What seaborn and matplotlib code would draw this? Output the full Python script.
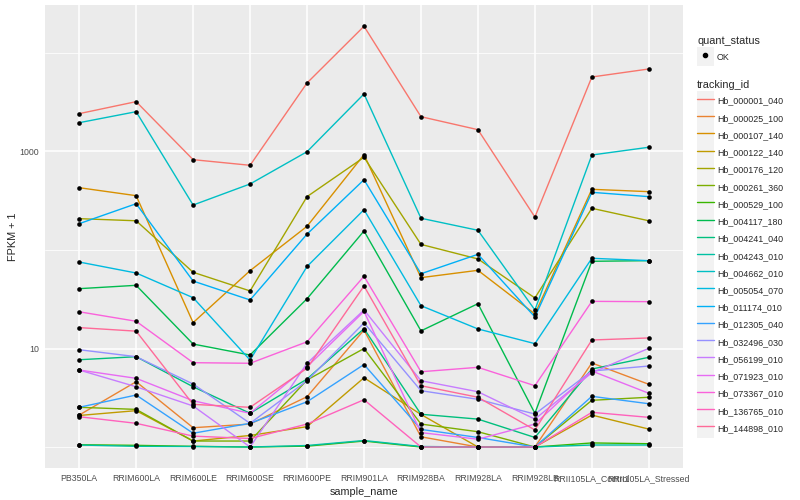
import numpy as np
import pandas as pd
import matplotlib
matplotlib.use("Agg")
import matplotlib.pyplot as plt
import seaborn as sns
from matplotlib.lines import Line2D
from matplotlib.patches import Rectangle
from matplotlib.legend_handler import HandlerLine2D

sample_names = ["PB350LA", "RRIM600LA", "RRIM600LE", "RRIM600SE", "RRIM600PE",
                "RRIM901LA", "RRIM928BA", "RRIM928LA", "RRIM928LB",
                "RRII105LA_Control", "RRII105LA_Stressed"]

tracking_ids = ["Hb_000001_040", "Hb_000025_100", "Hb_000107_140", "Hb_000122_140",
                "Hb_000176_120", "Hb_000261_360", "Hb_000529_100", "Hb_004117_180",
                "Hb_004241_040", "Hb_004243_010", "Hb_004662_010", "Hb_005054_070",
                "Hb_011174_010", "Hb_012305_040", "Hb_032496_030", "Hb_056199_010",
                "Hb_071923_010", "Hb_073367_010", "Hb_136765_010", "Hb_144898_010"]

# FPKM per sample (same order as sample_names)
hb_000001_040 = [2420, 3205, 825, 723, 4959, 18659, 2254, 1664, 215, 5704, 6879]
hb_000025_100 = [1.11, 3.6, 0.57, 0.71, 2.24, 14.4, 0.27, 0, 0, 6.13, 3.33]
hb_000107_140 = [428, 355, 17.3, 60.7, 173, 928, 51.4, 61.2, 21.4, 412, 390]
hb_000122_140 = [1.09, 1.34, 0.15, 0.31, 0.61, 4.05, 1.14, 0, 0, 1.11, 0.52]
hb_000176_120 = [207, 197, 58.4, 37.4, 347, 872, 113, 80.1, 31.6, 264, 197]
hb_000261_360 = [1.53, 1.41, 0.15, 0.15, 3.79, 9.0, 0.71, 0.43, 0, 1.98, 2.2]
hb_000529_100 = [0.055, 0.04, 0.016, 0, 0.02, 0.15, 0, 0, 0, 0.1, 0.08]
hb_004117_180 = [39.5, 42.8, 10.1, 7.59, 31.0, 155, 14.1, 27.5, 1.2, 75.8, 76.9]
hb_004241_040 = [6.69, 7.26, 3.09, 1.2, 3.9, 14.9, 1.15, 0.92, 0.25, 5.19, 7.14]
hb_004243_010 = [0.048, 0.016, 0.012, 0, 0.036, 0.164, 0.012, 0, 0, 0.048, 0.048]
hb_004662_010 = [1959, 2534, 285, 467, 994, 3836, 209, 157.5, 23.6, 920, 1103]
hb_005054_070 = [74.5, 57.4, 31.8, 6.64, 67.0, 255.6, 26.2, 14.8, 10.2, 81.4, 76.9]
hb_011174_010 = [184, 294, 47.4, 30.1, 144, 516, 56.4, 89.4, 19.9, 384, 347]
hb_012305_040 = [1.53, 2.37, 0.38, 0.74, 1.88, 5.88, 0.51, 0.25, 0, 2.27, 1.75]
hb_032496_030 = [8.72, 7.26, 3.36, 0.74, 3.71, 17.2, 2.73, 2.05, 1.16, 4.91, 5.64]
hb_056199_010 = [5.05, 3.09, 1.61, 0, 6.08, 23.6, 3.71, 2.64, 0.92, 4.68, 9.05]
hb_071923_010 = [5.05, 3.98, 1.95, 1.2, 5.53, 22.8, 0.4, 0.2, 0.71, 4.91, 2.51]
hb_073367_010 = [22.6, 17.9, 6.18, 6.08, 10.7, 53.1, 4.81, 5.44, 3.19, 29.1, 28.9]
hb_136765_010 = [1.03, 0.74, 0.29, 0.22, 0.71, 2.02, 0, 0, 0, 1.25, 1.0]
hb_144898_010 = [15.3, 14.0, 1.71, 1.53, 5.3, 42.1, 3.19, 2.2, 0.49, 11.2, 11.8]

series = [hb_000001_040, hb_000025_100, hb_000107_140, hb_000122_140, hb_000176_120,
          hb_000261_360, hb_000529_100, hb_004117_180, hb_004241_040, hb_004243_010,
          hb_004662_010, hb_005054_070, hb_011174_010, hb_012305_040, hb_032496_030,
          hb_056199_010, hb_071923_010, hb_073367_010, hb_136765_010, hb_144898_010]


def hue_pal(n, c=100, l=65):
    # ggplot2 default discrete palette (polar Luv -> sRGB)
    hues = np.linspace(15, 375, n + 1)[:n]
    xn, yn, zn = 95.047, 100.0, 108.883
    un = 4 * xn / (xn + 15 * yn + 3 * zn)
    vn = 9 * yn / (xn + 15 * yn + 3 * zn)
    out = []
    for h in hues:
        u = c * np.cos(np.radians(h))
        v = c * np.sin(np.radians(h))
        Y = yn * ((l + 16) / 116) ** 3
        up = u / (13 * l) + un
        vp = v / (13 * l) + vn
        X = Y * 9 * up / (4 * vp)
        Z = Y * (12 - 3 * up - 20 * vp) / (4 * vp)
        m = np.array([[3.2404542, -1.5371385, -0.4985314],
                      [-0.9692660, 1.8760108, 0.0415560],
                      [0.0556434, -0.2040259, 1.0572252]])
        rgb = m @ np.array([X, Y, Z]) / 100
        rgb = np.where(rgb <= 0.0031308, 12.92 * rgb, 1.055 * np.abs(rgb) ** (1 / 2.4) - 0.055)
        out.append(tuple(np.clip(rgb, 0, 1)))
    return out


colors = hue_pal(len(tracking_ids))

rows = []
for tid, vals in zip(tracking_ids, series):
    for s, v in zip(sample_names, vals):
        rows.append({"tracking_id": tid, "sample_name": s, "fpkm": v})
df = pd.DataFrame(rows)
df["fpkm1"] = df["fpkm"] + 1
df["sample_name"] = pd.Categorical(df["sample_name"], categories=sample_names, ordered=True)
df["x"] = df["sample_name"].cat.codes

sns.set_theme(style="darkgrid")
plt.rcParams["font.family"] = ["Liberation Sans", "DejaVu Sans"]

fig = plt.figure(figsize=(8, 5), dpi=100)
ax = fig.add_axes([45 / 800, 32 / 500, 638 / 800, 463 / 500])
ax.set_facecolor("#EBEBEB")

sns.lineplot(data=df, x="x", y="fpkm1", hue="tracking_id", hue_order=tracking_ids,
             palette=colors, estimator=None, sort=False, lw=1.0, legend=False, ax=ax)
sns.scatterplot(data=df, x="x", y="fpkm1", color="black", s=11, linewidth=0,
                legend=False, ax=ax, zorder=5)

ax.set_yscale("log")
ax.set_xlim(-0.6, len(sample_names) - 0.4)
ax.set_ylim(10 ** -0.213, 10 ** 4.487)
ax.set_yticks([10, 1000])
ax.set_yticklabels(["10", "1000"])
ax.set_yticks([1, 100, 10000], minor=True)
ax.yaxis.set_minor_formatter(matplotlib.ticker.NullFormatter())
ax.set_xticks(range(len(sample_names)))
ax.set_xticklabels(sample_names)

ax.grid(which="major", color="white", lw=1.1)
ax.grid(which="minor", axis="y", color="white", lw=0.55)
ax.tick_params(which="major", length=2.5, width=0.6, color="#333333",
               labelsize=6.3, labelcolor="#4D4D4D", pad=2)
ax.tick_params(which="minor", length=0)
for sp in ax.spines.values():
    sp.set_visible(False)

ax.set_xlabel("sample_name", fontsize=7.8, labelpad=3)
ax.set_ylabel("FPKM + 1", fontsize=7.8, labelpad=1)


class KeyHandler(HandlerLine2D):
    def create_artists(self, legend, orig_handle, xdescent, ydescent, width, height,
                       fontsize, trans):
        bg = Rectangle((-xdescent, -ydescent - 2), width, height + 4, facecolor="#F2F2F2",
                       edgecolor="none", transform=trans)
        arts = super().create_artists(legend, orig_handle, xdescent, ydescent, width,
                                      height, fontsize, trans)
        return [bg] + arts


leg_kw = dict(frameon=False, fontsize=6.4, title_fontsize=7.8, handlelength=1.9,
              handleheight=1.9, handletextpad=0.35, borderpad=0, borderaxespad=0,
              labelspacing=0.46, alignment="left", loc="upper left")

ok_handle = Line2D([], [], color="black", marker="o", markersize=3, lw=0)
leg1 = fig.legend([ok_handle], ["OK"], title="quant_status",
                  bbox_to_anchor=(697 / 800, 1 - 36 / 500),
                  handler_map={Line2D: KeyHandler(numpoints=1)}, **leg_kw)

line_handles = [Line2D([], [], color=c, lw=1.0) for c in colors]
leg2 = fig.legend(line_handles, tracking_ids, title="tracking_id",
                  bbox_to_anchor=(697 / 800, 1 - 80 / 500),
                  handler_map={Line2D: KeyHandler()}, **leg_kw)

fig.savefig("out.png", dpi=100)
